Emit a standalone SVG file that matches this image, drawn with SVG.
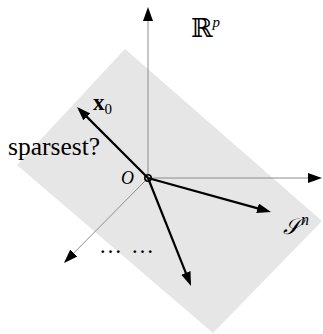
<svg xmlns="http://www.w3.org/2000/svg" width="323" height="334" viewBox="0 0 323 334">
<style>
.t{font-family:"Liberation Serif","DejaVu Serif",serif;fill:#000}
.ax{stroke:#8c8c8c;stroke-width:1;fill:none}
.vec{stroke:#000;stroke-width:2.2;fill:none}
</style>
<defs>
<marker id="ah" markerUnits="userSpaceOnUse" markerWidth="14" markerHeight="10" refX="5" refY="5" orient="auto" viewBox="0 0 14 10">
<path d="M0,0 L14,5 L0,10 z" fill="#000"/>
</marker>
</defs>
<g id="plane">
<polygon points="125,49 322,221 213,333 17,165" fill="#e6e6e6"/>
</g>
<g id="connectors">
<line class="ax" x1="148" y1="178" x2="148" y2="16" marker-end="url(#ah)"/>
<line class="ax" x1="148" y1="178" x2="313" y2="178" marker-end="url(#ah)"/>
<line class="ax" x1="148" y1="178" x2="70.3" y2="256.6" marker-end="url(#ah)"/>
<line class="vec" x1="148" y1="178" x2="83.4" y2="113.4" marker-end="url(#ah)"/>
<line class="vec" x1="148" y1="178" x2="262.3" y2="209.6" marker-end="url(#ah)"/>
<line class="vec" x1="148" y1="178" x2="187.7" y2="277.6" marker-end="url(#ah)"/>
</g>
<g id="origin">
<circle cx="148" cy="178" r="3.2" fill="none" stroke="#000" stroke-width="1.6"/>
<text class="t" x="121" y="184" font-size="18" font-style="italic">O</text>
</g>
<g id="Rp">
<text class="t" x="191" y="37" font-size="26" style="font-family:'DejaVu Serif',serif">ℝ<tspan font-size="15" font-style="italic" dy="-10" style="font-family:'Liberation Serif',serif">p</tspan></text>
</g>
<g id="x0">
<text class="t" x="93" y="110" font-size="23" font-weight="bold">x<tspan font-size="15" font-weight="normal" dy="4">0</tspan></text>
</g>
<g id="sparsest">
<text class="t" x="8" y="155" font-size="25.5">sparsest?</text>
</g>
<g id="Sn">
<text class="t" x="283" y="234" font-size="22" font-style="italic">𝒮<tspan x="301" font-size="16" dy="-9">n</tspan></text>
</g>
<g id="dots">
<text class="t" x="99" y="253" font-size="23">…<tspan x="131">…</tspan></text>
</g>
</svg>
